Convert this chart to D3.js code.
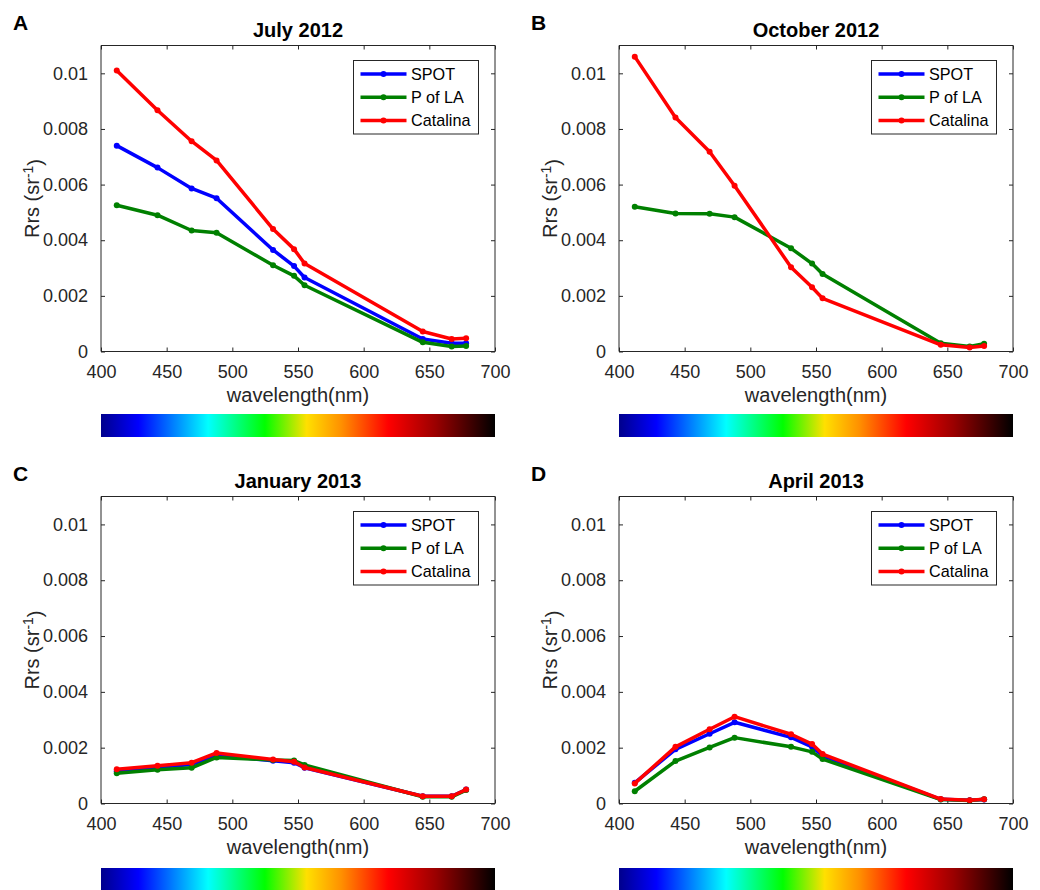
<!DOCTYPE html>
<html>
<head>
<meta charset="utf-8">
<script src="https://cdn.jsdelivr.net/npm/d3@7"></script>
<style>
  html, body { margin: 0; padding: 0; background: #fff; }
  svg { display: block; font-family: "Liberation Sans", Arial, Helvetica, sans-serif; }
</style>
</head>
<body>
<svg id="chart" width="1040" height="890"></svg>
<script>
// Band centre wavelengths (nm)
const wavelengths = [412, 443, 469, 488, 531, 547, 555, 645, 667, 678];

const seriesNames = ["SPOT", "P of LA", "Catalina"];
const seriesColors = ["#0000ff", "#008000", "#ff0000"];

const panelLetters = ["A", "B", "C", "D"];
const panelTitles = ["July 2012", "October 2012", "January 2013", "April 2013"];

const xTicks = [400, 450, 500, 550, 600, 650, 700];
const yTicks = [0, 0.002, 0.004, 0.006, 0.008, 0.01];
const yTickLabels = ["0", "0.002", "0.004", "0.006", "0.008", "0.01"];

// Remote-sensing reflectance Rrs (sr^-1) per station
const spotJul2012 = [0.0074, 0.00661, 0.00586, 0.00551, 0.00365, 0.00307, 0.00266, 0.00045, 0.0003, 0.0003];
const polaJul2012 = [0.00526, 0.0049, 0.00435, 0.00427, 0.0031, 0.00272, 0.00238, 0.00033, 0.00018, 0.0002];
const catJul2012 = [0.0101, 0.00867, 0.00756, 0.00687, 0.0044, 0.00368, 0.00316, 0.00072, 0.00045, 0.00048];

const spotOct2012 = [null, null, null, null, null, null, null, null, null, null];
const polaOct2012 = [0.0052, 0.00496, 0.00495, 0.00483, 0.00371, 0.00316, 0.00279, 0.0003, 0.00018, 0.00028];
const catOct2012 = [0.0106, 0.00841, 0.00718, 0.00596, 0.00303, 0.00231, 0.00191, 0.00024, 0.00014, 0.0002];

const spotJan2013 = [0.00116, 0.0013, 0.0014, 0.00173, 0.00153, 0.00146, 0.00128, 0.00026, 0.00026, 0.0005];
const polaJan2013 = [0.00108, 0.00121, 0.00128, 0.00165, 0.00156, 0.00154, 0.00138, 0.00024, 0.00024, 0.00048];
const catJan2013 = [0.00123, 0.00135, 0.00146, 0.00181, 0.00158, 0.0015, 0.00129, 0.00026, 0.00026, 0.0005];

const spotApr2013 = [0.00074, 0.00194, 0.0025, 0.00291, 0.00237, 0.00203, 0.00171, 0.00015, 0.00012, 0.00014];
const polaApr2013 = [0.00044, 0.00152, 0.00201, 0.00236, 0.00203, 0.00185, 0.00159, 0.00014, 0.00011, 0.00015];
const catApr2013 = [0.00072, 0.00203, 0.00266, 0.00311, 0.00248, 0.00213, 0.00177, 0.00016, 0.00012, 0.00015];

const panelData = [
  [spotJul2012, polaJul2012, catJul2012],
  [spotOct2012, polaOct2012, catOct2012],
  [spotJan2013, polaJan2013, catJan2013],
  [spotApr2013, polaApr2013, catApr2013]
];

// Visible-spectrum colour strip under each panel
const spectrumOffsets = [0, 0.095, 0.272, 0.416, 0.522, 0.61, 0.729, 0.85, 1];
const spectrumColors = ["#00008c", "#0000ff", "#00ffff", "#00ff00", "#ffe000", "#ff9000", "#ff0000", "#9a0000", "#000000"];

// Layout
const panelBoxes = [
  { left: 101, top: 45.5, right: 495, bottom: 351.5, barTop: 414, barBottom: 437 },
  { left: 619, top: 45.5, right: 1013, bottom: 351.5, barTop: 414, barBottom: 437 },
  { left: 101, top: 496.5, right: 495, bottom: 803.5, barTop: 868, barBottom: 892 },
  { left: 619, top: 496.5, right: 1013, bottom: 803.5, barTop: 868, barBottom: 892 }
];

const axisColor = "#262626";
const svg = d3.select("#chart");

const defs = svg.append("defs");
const grad = defs.append("linearGradient").attr("id", "spectrum")
  .attr("x1", "0%").attr("x2", "100%").attr("y1", "0%").attr("y2", "0%");
grad.selectAll("stop").data(spectrumOffsets).join("stop")
  .attr("offset", d => d)
  .attr("stop-color", (d, i) => spectrumColors[i]);

panelBoxes.forEach((b, p) => {
  const g = svg.append("g");
  const x = d3.scaleLinear().domain([400, 700]).range([b.left, b.right]);
  const y = d3.scaleLinear().domain([0, 0.011]).range([b.bottom, b.top]);

  // Plot frame
  g.append("rect")
    .attr("x", b.left).attr("y", b.top)
    .attr("width", b.right - b.left).attr("height", b.bottom - b.top)
    .attr("fill", "#fff");

  // Axes (ticks point inward, box on all four sides)
  const tickLen = 4;
  const fmtY = (d, i) => yTickLabels[i];
  const axB = d3.axisBottom(x).tickValues(xTicks).tickSize(-tickLen).tickPadding(tickLen + 10).tickFormat(d3.format("d"));
  const axT = d3.axisTop(x).tickValues(xTicks).tickSize(-tickLen).tickFormat("");
  const axL = d3.axisLeft(y).tickValues(yTicks).tickSize(-tickLen).tickPadding(tickLen + 9).tickFormat(fmtY);
  const axR = d3.axisRight(y).tickValues(yTicks).tickSize(-tickLen).tickFormat("");

  const styleAxis = sel => {
    sel.select(".domain").attr("stroke", axisColor).attr("stroke-width", 1);
    sel.selectAll(".tick line").attr("stroke", axisColor).attr("stroke-width", 1);
    sel.selectAll(".tick text").attr("fill", axisColor).style("font-size", "18px")
      .style("font-family", "'Liberation Sans', Arial, Helvetica, sans-serif");
  };

  g.append("g").attr("transform", `translate(0,${b.bottom})`).call(axB).call(styleAxis)
    .call(s => s.select(".domain").attr("d", `M${b.left},0H${b.right}`));
  g.append("g").attr("transform", `translate(0,${b.top})`).call(axT).call(styleAxis)
    .call(s => s.select(".domain").attr("d", `M${b.left},0H${b.right}`));
  g.append("g").attr("transform", `translate(${b.left},0)`).call(axL).call(styleAxis)
    .call(s => s.select(".domain").attr("d", `M0,${b.bottom}V${b.top}`));
  g.append("g").attr("transform", `translate(${b.right},0)`).call(axR).call(styleAxis)
    .call(s => s.select(".domain").attr("d", `M0,${b.bottom}V${b.top}`));

  // Series lines and markers
  const line = d3.line()
    .defined(d => d.v !== null)
    .x(d => x(d.w)).y(d => y(d.v));

  panelData[p].forEach((vals, s) => {
    const pts = wavelengths.map((w, i) => ({ w, v: vals[i] }));
    g.append("path").datum(pts)
      .attr("d", line)
      .attr("fill", "none")
      .attr("stroke", seriesColors[s])
      .attr("stroke-width", 3.5)
      .attr("stroke-linejoin", "round");
    g.append("g").selectAll("circle").data(pts.filter(d => d.v !== null)).join("circle")
      .attr("cx", d => x(d.w)).attr("cy", d => y(d.v))
      .attr("r", 3).attr("fill", seriesColors[s]);
  });

  // Legend
  const lx = b.right - 141.5, ly = b.top + 15;
  const lg = g.append("g").attr("transform", `translate(${lx},${ly})`);
  lg.append("rect").attr("x", 0).attr("y", 0).attr("width", 125).attr("height", 73.5)
    .attr("fill", "#fff").attr("stroke", axisColor).attr("stroke-width", 1);
  seriesNames.forEach((name, s) => {
    const ry = 13.5 + s * 23.2;
    lg.append("line").attr("x1", 7).attr("x2", 53).attr("y1", ry).attr("y2", ry)
      .attr("stroke", seriesColors[s]).attr("stroke-width", 3.5);
    lg.append("circle").attr("cx", 30).attr("cy", ry).attr("r", 3).attr("fill", seriesColors[s]);
    lg.append("text").attr("x", 57.5).attr("y", ry).attr("dy", "0.36em")
      .attr("fill", "#000").style("font-size", "16.2px").text(name);
  });

  // Titles and axis labels
  const cx = (b.left + b.right) / 2;
  g.append("text").attr("x", cx).attr("y", b.top - 9).attr("text-anchor", "middle")
    .style("font-size", "20px").style("font-weight", "bold").attr("fill", "#000")
    .text(panelTitles[p]);

  g.append("text").attr("x", b.left - 88).attr("y", b.top - 16).attr("text-anchor", "start")
    .style("font-size", "21px").style("font-weight", "bold").attr("fill", "#000")
    .text(panelLetters[p]);

  g.append("text").attr("x", cx).attr("y", b.bottom + 50.5).attr("text-anchor", "middle")
    .style("font-size", "20px").attr("fill", axisColor).text("wavelength(nm)");

  const yl = g.append("text")
    .attr("transform", `translate(${b.left - 62},${(b.top + b.bottom) / 2}) rotate(-90)`)
    .attr("text-anchor", "middle").style("font-size", "20px").attr("fill", axisColor);
  yl.append("tspan").text("Rrs (sr");
  yl.append("tspan").attr("dy", "-0.45em").style("font-size", "14px").text("-1");
  yl.append("tspan").attr("dy", "0.45em").text(")");

  // Spectrum strip
  g.append("rect").attr("x", b.left).attr("y", b.barTop)
    .attr("width", b.right - b.left).attr("height", b.barBottom - b.barTop)
    .attr("fill", "url(#spectrum)");
});
</script>
</body>
</html>
